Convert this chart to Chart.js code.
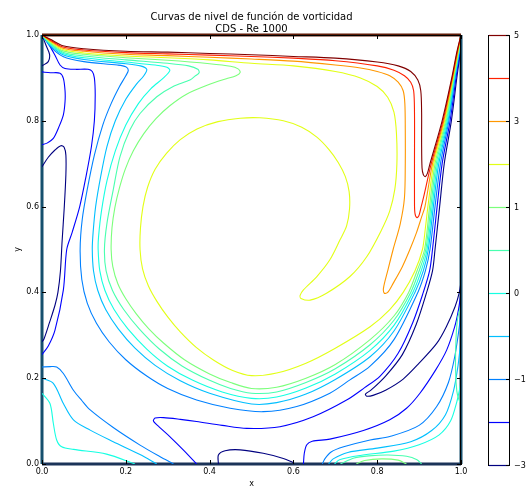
<!DOCTYPE html>
<html>
<head>
<meta charset="utf-8">
<script src="https://cdn.jsdelivr.net/npm/chart.js@4.4.0/dist/chart.umd.min.js"></script>
<style>
  body { margin: 0; background: #fff; }
</style>
</head>
<body>
<canvas id="grafico" width="531" height="488"></canvas>
<script>
// niveles de la barra de color y sus colores (jet entre -3 y 5)
const niveles = [-3, -2, -1, -0.5, 0, 0.5, 1, 2, 3, 4, 5];
const colores = ['#000080', '#0000ff', '#0080ff', '#00bfff', '#15ffe2', '#48ffaf', '#7bff7b', '#e2ff15', '#ff9700', '#ff2100', '#800000'];
const etiquetasBarra = [5, 3, 1, 0, -1, -3];
const ticksEjes = [0, 0.2, 0.4, 0.6, 0.8, 1.0];

// curvas, [x, y]
const nivel5 = [[0,1],[0.02,0.99],[0.05,0.975],[0.1,0.968],[0.2,0.962],[0.3,0.96],[0.4,0.957],[0.5,0.954],[0.6,0.95],[0.7,0.946],[0.8,0.937],[0.85,0.928],[0.88,0.915],[0.897,0.895],[0.904,0.87],[0.906,0.82],[0.906,0.75],[0.907,0.69],[0.91,0.675],[0.915,0.67],[0.92,0.678],[0.926,0.7],[0.955,0.8],[0.978,0.9],[0.99,0.96],[1,1]];
const nivel4 = [[0,1],[0.02,0.988],[0.05,0.972],[0.1,0.965],[0.2,0.959],[0.3,0.956],[0.4,0.953],[0.5,0.95],[0.6,0.946],[0.7,0.94],[0.8,0.928],[0.84,0.918],[0.865,0.905],[0.88,0.89],[0.887,0.87],[0.889,0.82],[0.889,0.7],[0.889,0.62],[0.89,0.585],[0.895,0.574],[0.9,0.58],[0.905,0.6],[0.911,0.623],[0.929,0.7],[0.957,0.8],[0.979,0.9],[0.991,0.96],[1,1]];
const nivel3 = [[0,1],[0.02,0.986],[0.05,0.969],[0.1,0.962],[0.2,0.955],[0.3,0.952],[0.4,0.948],[0.5,0.944],[0.6,0.939],[0.7,0.93],[0.76,0.923],[0.8,0.915],[0.83,0.905],[0.85,0.89],[0.862,0.87],[0.866,0.84],[0.867,0.78],[0.867,0.7],[0.865,0.62],[0.855,0.56],[0.838,0.5],[0.825,0.45],[0.815,0.41],[0.817,0.398],[0.825,0.4],[0.838,0.421],[0.86,0.46],[0.878,0.5],[0.894,0.54],[0.906,0.576],[0.914,0.6],[0.932,0.7],[0.959,0.8],[0.98,0.9],[0.992,0.96],[1,1]];
const nivel2 = [[0,1],[0.02,0.984],[0.05,0.966],[0.1,0.958],[0.2,0.951],[0.3,0.947],[0.4,0.942],[0.5,0.934],[0.6,0.928],[0.7,0.915],[0.76,0.9],[0.8,0.88],[0.825,0.855],[0.84,0.82],[0.846,0.77],[0.847,0.7],[0.842,0.64],[0.83,0.59],[0.81,0.545],[0.775,0.483],[0.735,0.437],[0.679,0.398],[0.64,0.382],[0.618,0.386],[0.616,0.393],[0.624,0.406],[0.656,0.437],[0.687,0.476],[0.711,0.522],[0.727,0.555],[0.734,0.595],[0.733,0.635],[0.724,0.67],[0.707,0.703],[0.685,0.733],[0.656,0.762],[0.62,0.785],[0.576,0.8],[0.52,0.807],[0.473,0.806],[0.42,0.798],[0.37,0.781],[0.33,0.756],[0.297,0.724],[0.27,0.687],[0.252,0.645],[0.241,0.6],[0.235,0.55],[0.234,0.5],[0.24,0.455],[0.254,0.415],[0.275,0.378],[0.3,0.343],[0.33,0.308],[0.368,0.272],[0.41,0.242],[0.455,0.218],[0.5,0.206],[0.56,0.212],[0.63,0.235],[0.7,0.27],[0.783,0.32],[0.83,0.36],[0.862,0.4],[0.89,0.45],[0.908,0.5],[0.915,0.55],[0.921,0.6],[0.935,0.7],[0.961,0.8],[0.981,0.9],[0.993,0.96],[1,1]];
const nivel1 = [[0,1],[0.02,0.982],[0.05,0.963],[0.1,0.955],[0.2,0.947],[0.3,0.941],[0.4,0.933],[0.45,0.927],[0.468,0.921],[0.473,0.913],[0.463,0.905],[0.44,0.898],[0.4,0.885],[0.345,0.862],[0.305,0.835],[0.272,0.805],[0.243,0.77],[0.218,0.73],[0.199,0.688],[0.185,0.644],[0.174,0.598],[0.167,0.55],[0.165,0.5],[0.169,0.46],[0.181,0.42],[0.2,0.385],[0.225,0.35],[0.255,0.315],[0.29,0.282],[0.34,0.243],[0.4,0.21],[0.45,0.19],[0.5,0.176],[0.56,0.179],[0.63,0.2],[0.7,0.232],[0.783,0.29],[0.84,0.345],[0.875,0.4],[0.895,0.45],[0.913,0.5],[0.925,0.6],[0.938,0.7],[0.963,0.8],[0.982,0.9],[0.993,0.96],[1,1]];
const nivel1Fondo = [[0.75,0],[0.77,0.008],[0.81,0.012],[0.85,0.009],[0.87,0]];
const nivel05 = [[0,1],[0.02,0.98],[0.05,0.96],[0.1,0.951],[0.2,0.942],[0.3,0.934],[0.35,0.928],[0.372,0.92],[0.375,0.912],[0.365,0.904],[0.353,0.895],[0.313,0.88],[0.274,0.856],[0.234,0.817],[0.21,0.779],[0.186,0.716],[0.17,0.639],[0.155,0.561],[0.149,0.5],[0.153,0.45],[0.168,0.405],[0.195,0.36],[0.232,0.315],[0.28,0.268],[0.335,0.228],[0.4,0.195],[0.45,0.176],[0.5,0.165],[0.56,0.168],[0.63,0.19],[0.7,0.222],[0.783,0.278],[0.84,0.335],[0.88,0.4],[0.9,0.45],[0.916,0.5],[0.928,0.6],[0.941,0.7],[0.965,0.8],[0.983,0.9],[0.994,0.96],[1,1]];
const nivel05Fondo = [[0.712,0],[0.745,0.014],[0.78,0.019],[0.826,0.021],[0.87,0.018],[0.895,0.01],[0.906,0]];
const nivel05Pared = [[1,0.37],[0.992,0.34],[0.988,0.29],[0.987,0.22],[0.99,0.17],[0.995,0.15],[1,0.14]];
const nivel0 = [[0,1],[0.02,0.978],[0.05,0.957],[0.1,0.947],[0.2,0.937],[0.27,0.93],[0.298,0.925],[0.305,0.917],[0.29,0.9],[0.26,0.875],[0.23,0.84],[0.2,0.79],[0.175,0.73],[0.155,0.66],[0.142,0.59],[0.135,0.53],[0.134,0.5],[0.138,0.45],[0.15,0.405],[0.172,0.36],[0.205,0.315],[0.25,0.268],[0.3,0.228],[0.36,0.195],[0.43,0.168],[0.5,0.153],[0.56,0.156],[0.63,0.177],[0.7,0.21],[0.783,0.265],[0.84,0.323],[0.885,0.4],[0.905,0.45],[0.919,0.5],[0.931,0.6],[0.944,0.7],[0.967,0.8],[0.984,0.9],[0.995,0.96],[1,1]];
const nivel0Izq = [[0,0.165],[0.019,0.141],[0.027,0.095],[0.035,0.056],[0.047,0.04],[0.075,0.034],[0.154,0.023],[0.222,0]];
const nivel0Der = [[0.698,0],[0.71,0.01],[0.76,0.02],[0.84,0.03],[0.9,0.045],[0.948,0.068],[0.975,0.1],[0.99,0.145],[1,0.19]];
const nivelM05 = [[0,1],[0.02,0.976],[0.05,0.954],[0.1,0.943],[0.2,0.933],[0.235,0.928],[0.25,0.92],[0.243,0.905],[0.225,0.885],[0.2,0.85],[0.175,0.8],[0.155,0.74],[0.14,0.67],[0.128,0.6],[0.122,0.54],[0.12,0.5],[0.123,0.45],[0.133,0.405],[0.152,0.36],[0.182,0.315],[0.222,0.27],[0.27,0.23],[0.33,0.194],[0.4,0.165],[0.5,0.14],[0.56,0.143],[0.63,0.163],[0.7,0.197],[0.783,0.25],[0.84,0.31],[0.89,0.4],[0.91,0.45],[0.922,0.5],[0.934,0.6],[0.947,0.7],[0.969,0.8],[0.985,0.9],[0.995,0.96],[1,1]];
const nivelM05Izq = [[0,0.2],[0.027,0.188],[0.051,0.141],[0.075,0.103],[0.115,0.079],[0.17,0.052],[0.234,0.022],[0.274,0]];
const nivelM05Der = [[0.684,0],[0.695,0.012],[0.73,0.027],[0.8,0.037],[0.88,0.052],[0.93,0.078],[0.963,0.115],[0.982,0.17],[0.993,0.23],[1,0.29]];
const nivelM1 = [[0,1],[0.02,0.973],[0.05,0.95],[0.1,0.938],[0.18,0.93],[0.2,0.926],[0.206,0.918],[0.2,0.905],[0.185,0.88],[0.165,0.84],[0.145,0.79],[0.125,0.72],[0.108,0.64],[0.096,0.57],[0.091,0.5],[0.095,0.43],[0.108,0.375],[0.13,0.328],[0.16,0.285],[0.2,0.243],[0.25,0.205],[0.3,0.176],[0.369,0.149],[0.449,0.13],[0.528,0.122],[0.608,0.134],[0.687,0.165],[0.735,0.196],[0.783,0.228],[0.84,0.29],[0.897,0.4],[0.915,0.45],[0.926,0.5],[0.938,0.6],[0.951,0.7],[0.971,0.8],[0.986,0.9],[0.996,0.96],[1,1]];
const nivelM1Izq = [[0,0.226],[0.02,0.227],[0.035,0.226],[0.051,0.211],[0.075,0.172],[0.095,0.148],[0.115,0.126],[0.17,0.085],[0.234,0.044],[0.28,0.018],[0.314,0]];
const nivelM1Der = [[0.669,0],[0.675,0.012],[0.69,0.028],[0.72,0.04],[0.783,0.056],[0.83,0.064],[0.9,0.09],[0.942,0.134],[0.97,0.19],[0.985,0.25],[0.996,0.32],[1,0.36]];
const nivelM2 = [[0,1],[0.015,0.98],[0.031,0.953],[0.043,0.93],[0.055,0.922],[0.08,0.92],[0.11,0.92],[0.12,0.915],[0.125,0.9],[0.127,0.86],[0.125,0.8],[0.118,0.74],[0.105,0.67],[0.09,0.6],[0.072,0.54],[0.059,0.5],[0.051,0.406],[0.031,0.312],[0.015,0.275],[0,0.255]];
const nivelM2Borde = [[0,0.914],[0.02,0.912],[0.043,0.911],[0.051,0.899],[0.055,0.87],[0.055,0.845],[0.051,0.814],[0.04,0.785],[0.027,0.759],[0.012,0.748],[0,0.744]];
const nivelM2Arco = [[0.369,0],[0.34,0.03],[0.305,0.064],[0.28,0.086],[0.266,0.1],[0.27,0.107],[0.29,0.108],[0.33,0.104],[0.369,0.099],[0.43,0.09],[0.489,0.083],[0.568,0.087],[0.647,0.11],[0.727,0.149],[0.77,0.178],[0.807,0.205],[0.85,0.258],[0.885,0.33],[0.91,0.4],[0.925,0.45],[0.932,0.5],[0.943,0.6],[0.955,0.7],[0.974,0.8],[0.988,0.9],[0.997,0.96],[1,1]];
const nivelM2Der = [[0.624,0],[0.626,0.025],[0.632,0.045],[0.645,0.053],[0.687,0.058],[0.767,0.078],[0.83,0.103],[0.87,0.13],[0.902,0.165],[0.94,0.22],[0.966,0.266],[0.985,0.32],[0.994,0.36],[1,0.4]];
const nivelM3Esquina = [[0,1],[0.01,0.975],[0.018,0.955],[0.015,0.938],[0,0.928]];
const nivelM3Izq = [[0,0.693],[0.015,0.715],[0.031,0.732],[0.045,0.742],[0.053,0.738],[0.057,0.72],[0.057,0.674],[0.053,0.596],[0.048,0.52],[0.044,0.45],[0.038,0.4],[0.031,0.37],[0.018,0.33],[0.005,0.292],[0,0.285]];
const nivelM3Fondo = [[0.421,0],[0.421,0.021],[0.437,0.031],[0.473,0.033],[0.528,0.025],[0.576,0.013],[0.6,0.003]];
const nivelM3Der = [[1,0.425],[0.996,0.4],[0.986,0.367],[0.965,0.32],[0.942,0.281],[0.9,0.235],[0.862,0.198],[0.82,0.172],[0.79,0.16],[0.775,0.158],[0.772,0.163],[0.785,0.172],[0.82,0.205],[0.86,0.255],[0.893,0.325],[0.918,0.4],[0.932,0.45],[0.938,0.5],[0.949,0.6],[0.96,0.7],[0.977,0.8],[0.99,0.9],[0.998,0.96],[1,1]];

const curvas = [
  [nivel5, 5], [nivel4, 4], [nivel3, 3], [nivel2, 2],
  [nivel1, 1], [nivel1Fondo, 1],
  [nivel05, 0.5], [nivel05Fondo, 0.5], [nivel05Pared, 0.5],
  [nivel0, 0], [nivel0Izq, 0], [nivel0Der, 0],
  [nivelM05, -0.5], [nivelM05Izq, -0.5], [nivelM05Der, -0.5],
  [nivelM1, -1], [nivelM1Izq, -1], [nivelM1Der, -1],
  [nivelM2, -2], [nivelM2Borde, -2], [nivelM2Arco, -2], [nivelM2Der, -2],
  [nivelM3Esquina, -3], [nivelM3Izq, -3], [nivelM3Fondo, -3], [nivelM3Der, -3]
];

// paredes de la cavidad, donde se juntan todas las curvas
const paredes = [
  [[[0,0],[0,1]], '#16506e'],
  [[[1,0],[1,1]], '#16506e'],
  [[[0,0],[1,0]], '#1b3358'],
  [[[0,1],[1,1]], '#5e1a06']
];

function colorNivel(n) {
  return colores[niveles.indexOf(n)];
}

const datasets = curvas.map(function(c) {
  return {
    data: c[0].map(p => ({ x: p[0], y: p[1] })),
    borderColor: colorNivel(c[1]),
    borderWidth: 1.1,
    pointRadius: 0,
    showLine: true,
    tension: 0.3,
    fill: false
  };
});

paredes.forEach(function(p) {
  datasets.push({
    data: p[0].map(q => ({ x: q[0], y: q[1] })),
    borderColor: p[1],
    borderWidth: 3,
    pointRadius: 0,
    showLine: true,
    fill: false,
    clip: 5
  });
});

const marcas = {
  id: 'marcas',
  afterDraw(chart) {
    const ctx = chart.ctx;
    const a = chart.chartArea;
    const sx = chart.scales.x, sy = chart.scales.y;
    ctx.save();
    ctx.strokeStyle = '#000';
    ctx.lineWidth = 1;
    // marco superior y derecho
    ctx.beginPath();
    ctx.moveTo(a.left, a.top + 0.5); ctx.lineTo(a.right, a.top + 0.5);
    ctx.moveTo(a.right - 0.5, a.top); ctx.lineTo(a.right - 0.5, a.bottom);
    ctx.stroke();
    // marcas hacia dentro en los cuatro lados
    ctx.beginPath();
    ticksEjes.forEach(function(v) {
      const px = Math.round(sx.getPixelForValue(v)) + 0.5;
      ctx.moveTo(px, a.bottom); ctx.lineTo(px, a.bottom - 4);
      ctx.moveTo(px, a.top); ctx.lineTo(px, a.top + 4);
      const py = Math.round(sy.getPixelForValue(v)) + 0.5;
      ctx.moveTo(a.left, py); ctx.lineTo(a.left + 4, py);
      ctx.moveTo(a.right, py); ctx.lineTo(a.right - 4, py);
    });
    ctx.stroke();

    // titulos
    ctx.fillStyle = '#000';
    ctx.font = '10px "DejaVu Sans"';
    ctx.textAlign = 'center';
    ctx.textBaseline = 'alphabetic';
    const cx = (a.left + a.right) / 2;
    ctx.fillText('Curvas de nivel de función de vorticidad', cx, 20);
    ctx.fillText('CDS - Re 1000', cx, 32);
    ctx.font = '8px "DejaVu Sans"';
    ctx.fillText('x', cx, 486);
    ctx.save();
    ctx.translate(20, (a.top + a.bottom) / 2);
    ctx.rotate(-Math.PI / 2);
    ctx.fillText('y', 0, 0);
    ctx.restore();

    // barra de color
    const bx0 = 488, bx1 = 509, by0 = 35, by1 = 465;
    const paso = (by1 - by0) / (niveles.length - 1);
    ctx.strokeStyle = '#000';
    ctx.strokeRect(bx0 + 0.5, by0 + 0.5, bx1 - bx0, by1 - by0);
    niveles.forEach(function(n, i) {
      const py = Math.round(by1 - i * paso) + 0.5;
      ctx.strokeStyle = colores[i];
      ctx.lineWidth = 1.2;
      ctx.beginPath();
      ctx.moveTo(bx0 + 1, py); ctx.lineTo(bx1, py);
      ctx.stroke();
    });
    ctx.strokeStyle = '#000';
    ctx.lineWidth = 1;
    ctx.textAlign = 'left';
    ctx.textBaseline = 'middle';
    etiquetasBarra.forEach(function(n) {
      const i = niveles.indexOf(n);
      const py = Math.round(by1 - i * paso) + 0.5;
      ctx.beginPath();
      ctx.moveTo(bx1 - 3, py); ctx.lineTo(bx1 + 1, py);
      ctx.stroke();
      ctx.fillText(n < 0 ? '\u2212' + Math.abs(n) : String(n), bx1 + 5, py);
    });
    ctx.restore();
  }
};

Chart.defaults.font.family = '"DejaVu Sans"';
Chart.defaults.color = '#000';

new Chart(document.getElementById('grafico'), {
  type: 'scatter',
  data: { datasets },
  options: {
    responsive: false,
    animation: false,
    devicePixelRatio: 1,
    layout: { padding: { top: 35, right: 70, left: 0, bottom: 0 } },
    plugins: { legend: { display: false }, tooltip: { enabled: false } },
    scales: {
      x: {
        type: 'linear', min: 0, max: 1,
        afterFit: s => { s.height = 24; },
        afterBuildTicks: s => { s.ticks = ticksEjes.map(v => ({ value: v })); },
        ticks: { font: { size: 8 }, padding: 3, maxRotation: 0, callback: v => v.toFixed(1) },
        grid: { display: false, drawTicks: false },
        border: { display: true, color: '#000', width: 1 }
      },
      y: {
        type: 'linear', min: 0, max: 1,
        afterFit: s => { s.width = 42; },
        afterBuildTicks: s => { s.ticks = ticksEjes.map(v => ({ value: v })); },
        ticks: { font: { size: 8 }, padding: 3, callback: v => v.toFixed(1) },
        grid: { display: false, drawTicks: false },
        border: { display: true, color: '#000', width: 1 }
      }
    }
  },
  plugins: [marcas]
});
</script>
</body>
</html>
